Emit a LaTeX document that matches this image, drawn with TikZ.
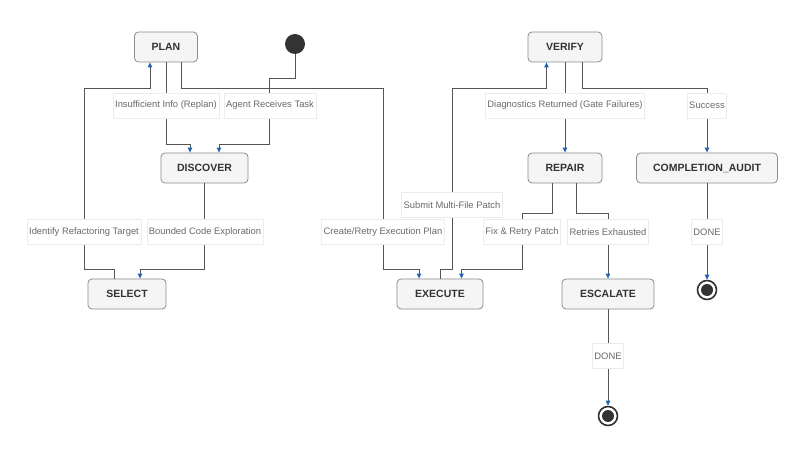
\documentclass[tikz,border=0pt]{standalone}
\usepackage{fontspec}
\setmainfont{Liberation Sans}
\usetikzlibrary{arrows.meta}
\definecolor{nodefill}{HTML}{F5F5F5}
\definecolor{nodeborder}{HTML}{8C8C8C}
\definecolor{nodetext}{HTML}{333333}
\definecolor{linecol}{HTML}{555555}
\definecolor{lbltext}{HTML}{6A6A6A}
\definecolor{lblborder}{HTML}{ECECEC}
\definecolor{tipblue}{HTML}{1F63B8}
\definecolor{dotcol}{HTML}{333333}
\tikzset{
  state/.style={draw=nodeborder, fill=nodefill, rounded corners=4pt, line width=0.8pt,
    minimum height=30pt, inner xsep=0pt, text=nodetext, font=\fontsize{10.5}{12}\selectfont\bfseries},
  lbl/.style={draw=lblborder, fill=white, line width=0.6pt, minimum height=25pt, inner xsep=2pt,
    text=lbltext, font=\fontsize{9.4}{11}\selectfont},
  edge/.style={draw=linecol, line width=0.9pt},
  arr/.style={edge, -{Triangle[color=tipblue,length=5pt,width=4.5pt]}},
  startdot/.style={circle, fill=dotcol, minimum size=20pt, inner sep=0pt},
  endring/.style={circle, draw=dotcol, line width=1.6pt, fill=white, minimum size=19pt, inner sep=0pt},
  enddot/.style={circle, fill=dotcol, minimum size=12pt, inner sep=0pt}
}
\begin{document}
\begin{tikzpicture}[x=1pt,y=-1pt]
\useasboundingbox (0,0) rectangle (806,454);
% states
\node[state, minimum width=63pt] (plan) at (166,47) {PLAN};
\node[startdot] (start) at (295,44) {};
\node[state, minimum width=87pt] (discover) at (204.5,168) {DISCOVER};
\node[state, minimum width=78pt] (select) at (127,294) {SELECT};
\node[state, minimum width=86pt] (execute) at (440,294) {EXECUTE};
\node[state, minimum width=74pt] (verify) at (565,47) {VERIFY};
\node[state, minimum width=74pt] (repair) at (565,168) {REPAIR};
\node[state, minimum width=141pt] (audit) at (707,168) {COMPLETION\_AUDIT};
\node[state, minimum width=92pt] (escalate) at (608,294) {ESCALATE};
\node[endring] (end1) at (707,290) {};
\node[enddot] at (end1) {};
\node[endring] (end2) at (608,416) {};
\node[enddot] at (end2) {};
% routing rows
\coordinate (r78) at (0,78);
\coordinate (r144) at (0,144);
% connectors
\draw[arr] (start.south) -- (start.south |- r78) -| (269,144) -| ([xshift=14.5pt]discover.north);
\draw[arr] (plan.south) -- (plan.south |- r144) -| ([xshift=-14.5pt]discover.north);
\draw[arr] ([xshift=15pt]plan.south) |- (383,88) -- (383,269) -| ([xshift=-21pt]execute.north);
\draw[arr] ([xshift=-13pt]select.north) |- (84,269) -- (84,88) -| ([xshift=-16pt]plan.south);
\draw[arr] (discover.south) |- (140,269) -- ([xshift=13pt]select.north);
\draw[arr] (execute.north) |- (452,269) -- (452,88) -| ([xshift=-18.5pt]verify.south);
\draw[arr] (verify.south) -- (repair.north);
\draw[arr] ([xshift=17.5pt]verify.south) |- (707,88) -- (audit.north);
\draw[arr] ([xshift=-12.5pt]repair.south) |- (522,213) -- (522,269) -| ([xshift=21.5pt]execute.north);
\draw[arr] ([xshift=11.5pt]repair.south) |- (608,213) -- (escalate.north);
\draw[arr] (audit.south) -- (end1.north);
\draw[arr] (escalate.south) -- (end2.north);
% labels
\node[lbl] (l1) at (270,105.5) {Agent Receives Task};
\node[lbl] (l2) at (166,105.5) {Insufficient Info (Replan)};
\node[lbl] (l3) at (383,232) {Create/Retry Execution Plan};
\node[lbl] (l4) at (84,232) {Identify Refactoring Target};
\node[lbl] (l5) at (205,232) {Bounded Code Exploration};
\node[lbl] (l6) at (452,205) {Submit Multi-File Patch};
\node[lbl] (l7) at (565,105.5) {Diagnostics Returned (Gate Failures)};
\node[lbl] (l8) at (707,105.5) {Success};
\node[lbl] (l9) at (522,232) {Fix \& Retry Patch};
\node[lbl] (l10) at (608,232) {Retries Exhausted};
\node[lbl] (l11) at (707,232) {DONE};
\node[lbl] (l12) at (608,356) {DONE};
\end{tikzpicture}
\end{document}
